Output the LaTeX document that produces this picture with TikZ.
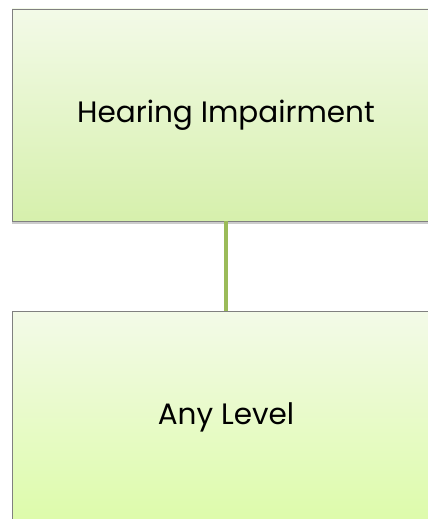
\documentclass[tikz,border=0pt]{standalone}
\usepackage{fontspec}
\setmainfont{Poppins}
\usetikzlibrary{shadows}
\tikzset{
  box/.style={draw=black!50, line width=0.8pt, top color={rgb,255:red,243;green,250;blue,232}, bottom color={rgb,255:red,214;green,240;blue,172},
    minimum width=428pt, minimum height=212pt, inner sep=0pt, font=\fontsize{29.5}{34}\selectfont,
    drop shadow={shadow xshift=0pt, shadow yshift=-3pt, opacity=0.4}},
  link/.style={draw={rgb,255:red,155;green,187;blue,89}, line width=4pt}
}
\begin{document}
\begin{tikzpicture}[x=1pt,y=1pt]
\useasboundingbox (0,0) rectangle (428,-519);
\clip (0,0) rectangle (428,-519);
\fill[white] (0,0) rectangle (428,-519);
\node[box] (top) at (226,-115) {Hearing Impairment};
\node[box, bottom color={rgb,255:red,221;green,251;blue,170}] (bot) at (226,-417) {Any Level};
\draw[link] (top.south) -- (bot.north);
\end{tikzpicture}
\end{document}
